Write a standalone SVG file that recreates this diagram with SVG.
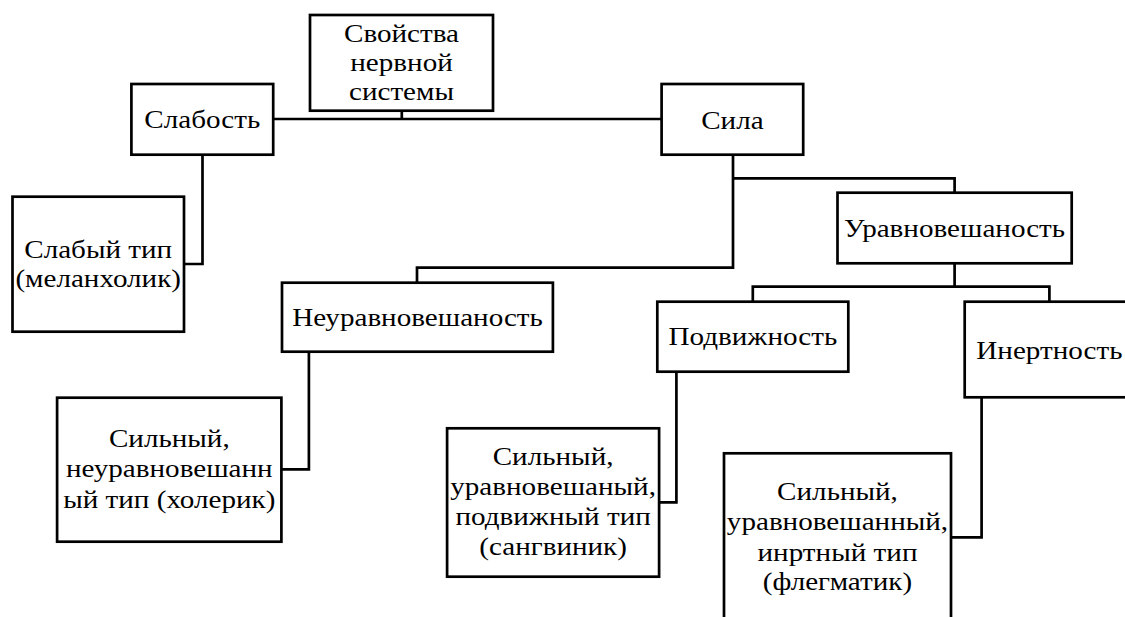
<svg xmlns="http://www.w3.org/2000/svg" width="1125" height="617" viewBox="0 0 1125 617">
<style>
.box{fill:#fff;stroke:#000;stroke-width:2.7}
.t{font-family:'Liberation Serif',Tinos,'Times New Roman','Noto Serif','DejaVu Serif',serif;font-size:26px;fill:#000;text-anchor:middle}
.c{fill:none;stroke:#000;stroke-width:2.7}
</style>
<rect width="1125" height="617" fill="#fff"/>
<g id="connectors">
<polyline class="c" points="401.8,110.7 401.8,119"/>
<line class="c" x1="273.2" y1="119" x2="661.6" y2="119"/>
<polyline class="c" points="202.5,154.7 202.5,264 184,264"/>
<polyline class="c" points="733,154.7 733,267.7 417,267.7 417,282.7"/>
<polyline class="c" points="733,178.3 954.6,178.3 954.6,192.7"/>
<polyline class="c" points="954.6,263.3 954.6,286.7"/>
<polyline class="c" points="752.8,301.7 752.8,286.7 1049.4,286.7 1049.4,301.7"/>
<polyline class="c" points="308.9,351.7 308.9,469.3 281.4,469.3"/>
<polyline class="c" points="676.4,371.7 676.4,502.3 659.1,502.3"/>
<polyline class="c" points="981.6,397.3 981.6,537.3 951,537.3"/>
</g>
<g id="n-svoistva">
<rect class="box" x="310" y="15" width="183" height="95.7"/>
<g class="t" transform="matrix(1.12,0,0,1,401.5,0)">
<text x="0" y="42">Свойства</text>
<text x="0" y="71.5">нервной</text>
<text x="0" y="100">системы</text>
</g>
</g>
<g id="n-slabost">
<rect class="box" x="131.4" y="84" width="141.8" height="70.7"/>
<text class="t" transform="matrix(1.12,0,0,1,202.3,0)" x="0" y="128">Слабость</text>
</g>
<g id="n-sila">
<rect class="box" x="661.6" y="84" width="141.6" height="70.7"/>
<text class="t" transform="matrix(1.12,0,0,1,732.4,0)" x="0" y="129">Сила</text>
</g>
<g id="n-slabyi">
<rect class="box" x="12.5" y="196.7" width="171.5" height="135"/>
<g class="t" transform="matrix(1.12,0,0,1,98.2,0)">
<text x="0" y="258">Слабый тип</text>
<text x="0" y="287">(меланхолик)</text>
</g>
</g>
<g id="n-uravn">
<rect class="box" x="837.5" y="192.7" width="234.2" height="70.6"/>
<text class="t" transform="matrix(1.12,0,0,1,954.6,0)" x="0" y="237">Уравновешаность</text>
</g>
<g id="n-neuravn">
<rect class="box" x="282" y="282.7" width="270.9" height="69"/>
<text class="t" transform="matrix(1.12,0,0,1,417.5,0)" x="0" y="326">Неуравновешаность</text>
</g>
<g id="n-podv">
<rect class="box" x="657.3" y="301.7" width="191" height="70"/>
<text class="t" transform="matrix(1.12,0,0,1,752.8,0)" x="0" y="345">Подвижность</text>
</g>
<g id="n-inert">
<rect class="box" x="964.7" y="301.7" width="170" height="95.6"/>
<text class="t" transform="matrix(1.12,0,0,1,1049.4,0)" x="0" y="359.3">Инертность</text>
</g>
<g id="n-holerik">
<rect class="box" x="57.1" y="397.7" width="224.3" height="144"/>
<g class="t" transform="matrix(1.12,0,0,1,169.3,0)">
<text x="0" y="446.7">Сильный,</text>
<text x="0" y="477.5">неуравновешанн</text>
<text x="0" y="508.3">ый тип (холерик)</text>
</g>
</g>
<g id="n-sangvinik">
<rect class="box" x="447.1" y="428.3" width="212" height="148.4"/>
<g class="t" transform="matrix(1.12,0,0,1,553.1,0)">
<text x="0" y="465">Сильный,</text>
<text x="0" y="495">уравновешаный,</text>
<text x="0" y="525">подвижный тип</text>
<text x="0" y="555">(сангвиник)</text>
</g>
</g>
<g id="n-flegmatik">
<rect class="box" x="724" y="453.3" width="227" height="180"/>
<g class="t" transform="matrix(1.12,0,0,1,837.5,0)">
<text x="0" y="500">Сильный,</text>
<text x="0" y="530">уравновешанный,</text>
<text x="0" y="561">инртный тип</text>
<text x="0" y="590">(флегматик)</text>
</g>
</g>
</svg>
